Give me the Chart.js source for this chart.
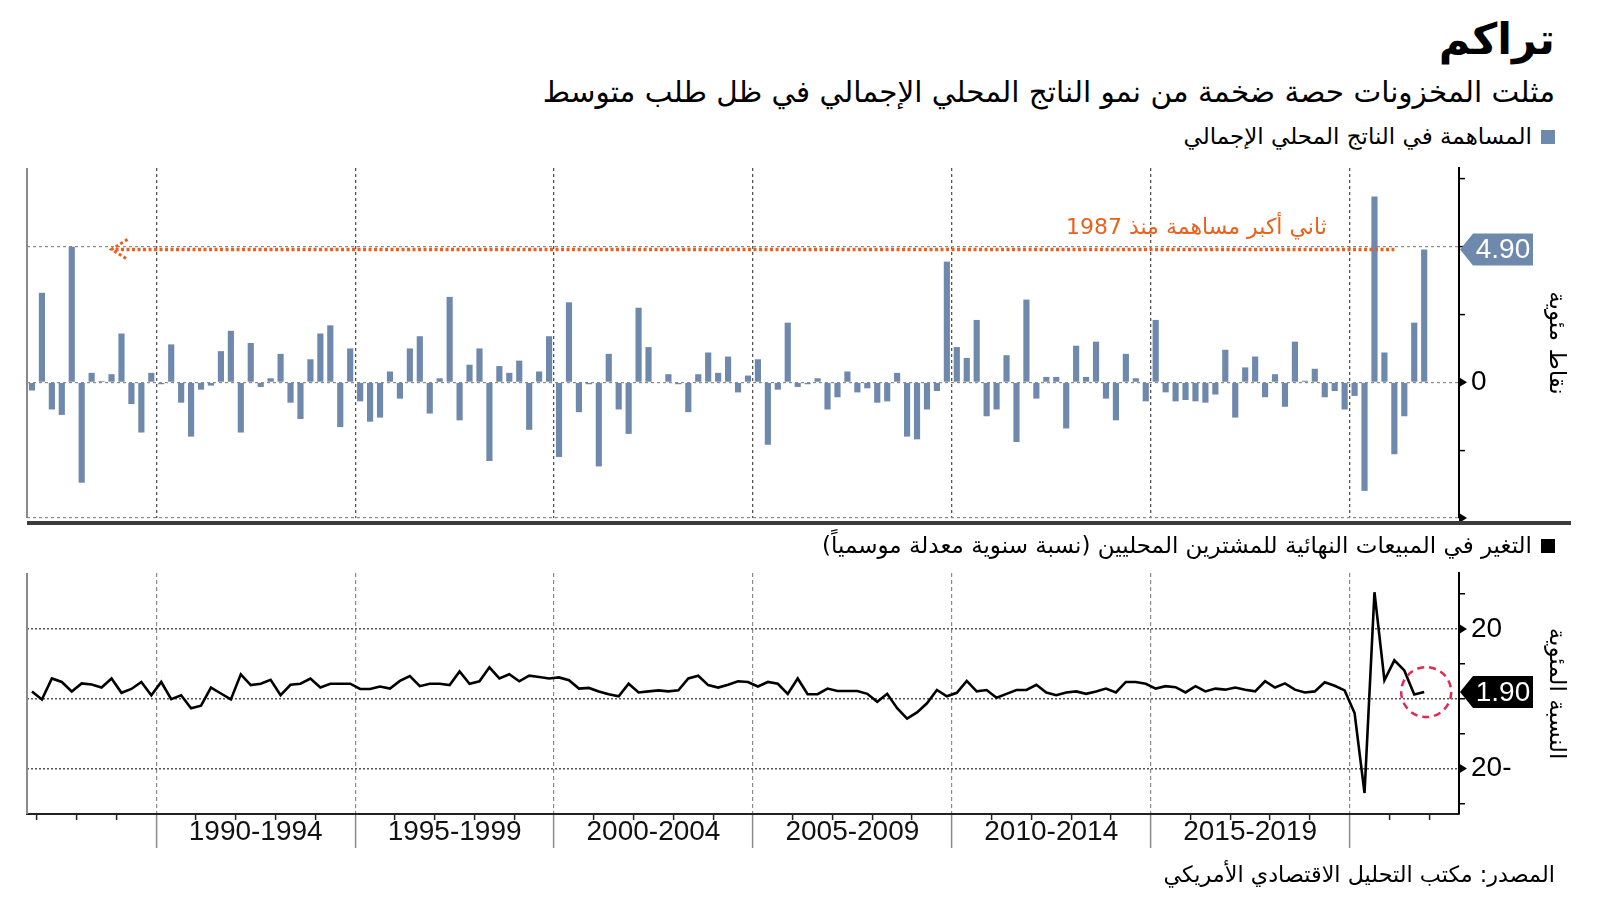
<!DOCTYPE html>
<html lang="ar">
<head>
<meta charset="UTF-8">
<title>تراكم</title>
<style>
  body {
    margin: 0;
    width: 1600px;
    height: 901px;
    background: #fff;
    position: relative;
    overflow: hidden;
    font-family: "DejaVu Sans", sans-serif;
    color: #000;
  }
  .rt {
    position: absolute;
    right: 45px;
    direction: rtl;
    white-space: nowrap;
    line-height: 1;
  }
  #title { top: 18px; font-size: 43px; font-weight: bold; }
  #subtitle { top: 78px; font-size: 29.5px; }
  .legend { display: flex; align-items: center; gap: 9px; font-size: 23px; }
  .legend .box { width: 14px; height: 14px; flex: none; }
  #legendTop { top: 125px; }
  #legendBottom { top: 534px; }
  #source { top: 863px; font-size: 22.3px; }
  .panel { position: absolute; left: 0; width: 1600px; }
  #topPanel { top: 145px; height: 396px; }
  #bottomPanel { top: 550px; height: 320px; }
  #divider {
    position: absolute;
    left: 27px;
    width: 1544px;
    top: 521px;
    height: 4px;
    background: #3c3c3c;
  }
</style>
</head>
<body>
  <div id="title" class="rt">تراكم</div>
  <div id="subtitle" class="rt">مثلت المخزونات حصة ضخمة من نمو الناتج المحلي الإجمالي في ظل طلب متوسط</div>
  <div id="legendTop" class="rt legend"><span class="box" id="boxTop"></span><span>المساهمة في الناتج المحلي الإجمالي</span></div>

  <div id="topPanel" class="panel"><canvas id="inventoryChart"></canvas></div>
  <div id="divider"></div>

  <div id="legendBottom" class="rt legend"><span class="box" id="boxBottom"></span><span>التغير في المبيعات النهائية للمشترين المحليين (نسبة سنوية معدلة موسمياً)</span></div>
  <div id="bottomPanel" class="panel"><canvas id="salesChart"></canvas></div>

  <div id="source" class="rt">المصدر: مكتب التحليل الاقتصادي الأمريكي</div>

  <script src="https://cdn.jsdelivr.net/npm/chart.js"></script>
  <script>
    // colours
    const barColor = '#6f89ad';
    const lineColor = '#000000';
    const noteColor = '#e8621e';
    const circleColor = '#e2294f';

    // quarters 1986 Q4 .. 2022 Q3 (last three slots stay empty)
    const firstYear = 1986;
    const firstQuarter = 4;
    const slotCount = 144;
    const quarterLabels = [];
    for (let k = 0; k < slotCount; k++) {
      const q = firstQuarter - 1 + k;
      quarterLabels.push((firstYear + Math.floor(q / 4)) + ' Q' + (q % 4 + 1));
    }

    const periodLabels = ['1990-1994', '1995-1999', '2000-2004', '2005-2009', '2010-2014', '2015-2019'];

    // inventories, contribution to GDP growth (percentage points)
    const inventoryContribution = [
      -0.3, 3.3, -1.0, -1.2, 5.0, -3.7, 0.35, 0.05, 0.3, 1.8, -0.8, -1.85,
      0.35, -0.07, 1.4, -0.75, -2.0, -0.27, -0.12, 1.15, 1.9, -1.85, 1.45, -0.17, 0.15, 1.05, -0.75, -1.35, 0.85, 1.8, 2.1, -1.65,
      1.25, -0.7, -1.45, -1.3, 0.4, -0.6, 1.25, 1.7, -1.15, 0.15, 3.15, -1.4, 0.65, 1.25, -2.9, 0.6, 0.35, 0.8, -1.75, 0.4,
      1.7, -2.75, 2.95, -1.1, -0.07, -3.1, 1.05, -1.0, -1.9, 2.75, 1.3, -0.02, 0.3, -0.07, -1.1, 0.3, 1.1, 0.35, 0.95, -0.37,
      0.25, 0.85, -2.3, -0.27, 2.2, -0.17, -0.07, 0.15, -1.0, -0.55, 0.4, -0.37, -0.22, -0.75, -0.7, 0.35, -2.0, -2.1, -1.0, -0.32,
      4.45, 1.3, 0.9, 2.3, -1.25, -1.0, 1.0, -2.2, 3.05, -0.6, 0.2, 0.2, -1.7, 1.35, 0.2, 1.5, -0.6, -1.4, 1.05, 0.15,
      -0.7, 2.3, -0.37, -0.7, -0.65, -0.7, -0.75, -0.45, 1.2, -1.3, 0.55, 0.95, -0.55, 0.3, -0.9, 1.5, 0.06, 0.5, -0.55, -0.32,
      -1.0, -0.5, -4.0, 6.85, 1.1, -2.65, -1.25, 2.2, 4.9
    ];

    // final sales to domestic purchasers, SAAR % change
    const finalSalesChange = [
      2.1, -0.2, 5.8, 4.8, 2.1, 4.4, 4.1, 3.2, 5.8, 1.7, 2.8, 4.8,
      1.0, 4.8, -0.1, 1.0, -2.7, -2.0, 3.2, 1.5, -0.2, 7.0, 3.9, 4.3, 5.4, 1.0, 4.0, 4.3, 5.8, 3.2, 4.3, 4.3,
      4.3, 2.8, 2.8, 3.5, 2.9, 5.1, 6.5, 3.6, 4.3, 4.3, 3.9, 7.8, 4.3, 5.0, 9.0, 5.8, 7.0, 5.0, 6.6, 6.2,
      5.8, 6.1, 5.3, 2.9, 3.1, 2.1, 1.3, 0.7, 4.3, 1.8, 2.1, 2.4, 2.1, 2.4, 5.8, 6.6, 3.9, 3.2, 4.0, 5.0,
      4.8, 3.5, 4.8, 4.3, 1.4, 5.8, 1.3, 1.3, 2.9, 2.2, 2.2, 2.2, 1.4, -0.9, 1.4, -2.7, -5.7, -3.9, -1.3, 2.5,
      0.7, 1.7, 5.1, 2.1, 2.5, 0.3, 1.4, 2.5, 2.5, 4.0, 1.8, 1.0, 1.8, 2.1, 1.4, 2.1, 2.9, 1.8, 4.8, 4.8,
      4.3, 2.9, 3.6, 3.3, 1.8, 3.6, 2.1, 2.9, 2.6, 3.2, 2.6, 2.1, 5.0, 3.2, 4.4, 2.6, 1.8, 2.1, 4.7, 3.7,
      2.4, -4.1, -27.0, 30.5, 5.3, 11.0, 8.1, 1.2, 1.9
    ];

    const barTicks = [-5, -2.5, 0, 2.5, 5, 7.5];
    const barGridValues = [-5, 0, 5];
    const barLabelValues = [0];
    const barArrowValues = [0, -5];

    const salesTicks = [-30, -20, -10, 0, 10, 20, 30];
    const salesGridValues = [-20, 0, 20];
    const salesLabelValues = [-20, 20];

    const noteText = 'ثاني أكبر مساهمة منذ 1987';
    const noteFrom = '1988 Q4';
    const noteTo = '2021 Q1';
    const noteTextEnd = '2019 Q2';

    document.getElementById('boxTop').style.background = barColor;
    document.getElementById('boxBottom').style.background = lineColor;

    function isYearStart(i) {
      const label = quarterLabels[i];
      return !!label && label.endsWith('Q1');
    }
    function isPeriodStart(i) {
      if (!isYearStart(i)) return false;
      const year = +quarterLabels[i].slice(0, 4);
      return year >= 1990 && year % 5 === 0;
    }
    // period label sits on the boundary in the middle of its five years
    const periodAt = {};
    periodLabels.forEach(p => {
      const mid = (+p.slice(0, 4) + 2) + ' Q3';
      periodAt[quarterLabels.indexOf(mid)] = p;
    });

    // RTL style negative numbers: "20-"
    function rtlNumber(v) {
      return v < 0 ? Math.abs(v) + '-' : String(v);
    }

    function drawArrowTick(ctx, x, y) {
      ctx.fillStyle = '#000';
      ctx.beginPath();
      ctx.moveTo(x, y - 5);
      ctx.lineTo(x + 8, y);
      ctx.lineTo(x, y + 5);
      ctx.closePath();
      ctx.fill();
    }

    function drawValueBox(ctx, x, y, text, fill) {
      const h = 32, slant = 13, w = 60;
      ctx.fillStyle = fill;
      ctx.beginPath();
      ctx.moveTo(x + 1, y);
      ctx.lineTo(x + 1 + slant, y - h / 2);
      ctx.lineTo(x + 1 + slant + w, y - h / 2);
      ctx.lineTo(x + 1 + slant + w, y + h / 2);
      ctx.lineTo(x + 1 + slant, y + h / 2);
      ctx.closePath();
      ctx.fill();
      ctx.fillStyle = '#fff';
      ctx.font = '28px "Liberation Sans"';
      ctx.textAlign = 'center';
      ctx.textBaseline = 'middle';
      ctx.direction = 'ltr';
      ctx.fillText(text, x + 1 + slant + w / 2, y + 1);
    }

    function drawLeftAxis(ctx, area) {
      ctx.strokeStyle = '#8a8a8a';
      ctx.lineWidth = 2;
      ctx.setLineDash([]);
      ctx.beginPath();
      ctx.moveTo(area.left, area.top);
      ctx.lineTo(area.left, area.bottom);
      ctx.stroke();
    }

    const inventoryDecor = {
      id: 'inventoryDecor',
      afterDraw(chart) {
        const { ctx, chartArea: area, scales: { x, y } } = chart;
        ctx.save();
        drawLeftAxis(ctx, area);
        barArrowValues.forEach(v => drawArrowTick(ctx, area.right, y.getPixelForValue(v)));

        // orange dotted reference line at the latest value
        const last = inventoryContribution[inventoryContribution.length - 1];
        const yv = y.getPixelForValue(last);
        const x0 = x.getPixelForValue(quarterLabels.indexOf(noteFrom));
        const x1 = x.getPixelForValue(quarterLabels.indexOf(noteTo));
        ctx.strokeStyle = noteColor;
        ctx.lineWidth = 3.5;
        ctx.setLineDash([3, 2.5]);
        ctx.beginPath();
        ctx.moveTo(x0 + 4, yv);
        ctx.lineTo(x1, yv);
        ctx.stroke();
        ctx.lineWidth = 3;
        ctx.beginPath();
        ctx.moveTo(x0 + 16, yv - 10);
        ctx.lineTo(x0, yv);
        ctx.lineTo(x0 + 16, yv + 10);
        ctx.stroke();
        ctx.setLineDash([]);

        ctx.fillStyle = noteColor;
        ctx.font = '22px "DejaVu Sans"';
        ctx.direction = 'rtl';
        ctx.textAlign = 'right';
        ctx.textBaseline = 'middle';
        ctx.fillText(noteText, x.getPixelForValue(quarterLabels.indexOf(noteTextEnd)) + 2, yv - 21);

        drawValueBox(ctx, area.right, yv, last.toFixed(2), barColor);
        ctx.restore();
      }
    };

    const salesDecor = {
      id: 'salesDecor',
      afterDraw(chart) {
        const { ctx, chartArea: area, scales: { x, y } } = chart;
        ctx.save();
        drawLeftAxis(ctx, area);
        salesLabelValues.forEach(v => drawArrowTick(ctx, area.right, y.getPixelForValue(v)));

        const lastIndex = finalSalesChange.length - 1;
        const last = finalSalesChange[lastIndex];
        const px = x.getPixelForValue(lastIndex);
        const py = y.getPixelForValue(last);
        ctx.strokeStyle = circleColor;
        ctx.lineWidth = 2.5;
        ctx.setLineDash([7, 5]);
        ctx.beginPath();
        ctx.arc(px + 2, py, 25, 0, Math.PI * 2);
        ctx.stroke();
        ctx.setLineDash([]);

        drawValueBox(ctx, area.right, py, last.toFixed(2), '#000');
        ctx.restore();
      }
    };

    const axisTitleFont = { family: 'DejaVu Sans', size: 23 };
    const tickFont = { family: 'Liberation Sans', size: 28 };
    const clear = 'rgba(0,0,0,0)';

    new Chart(document.getElementById('inventoryChart'), {
      type: 'bar',
      data: {
        labels: quarterLabels,
        datasets: [{
          label: 'المساهمة في الناتج المحلي الإجمالي',
          data: inventoryContribution,
          backgroundColor: barColor,
          borderWidth: 0,
          barPercentage: 0.62,
          categoryPercentage: 1
        }]
      },
      options: {
        responsive: true,
        maintainAspectRatio: false,
        animation: false,
        layout: { padding: { left: 27, right: 0, top: 23, bottom: 23 } },
        plugins: { legend: { display: false }, tooltip: { enabled: false } },
        scales: {
          x: {
            offset: true,
            grid: {
              offset: true,
              drawTicks: false,
              lineWidth: 1.3,
              color: c => isPeriodStart(c.index) ? '#555' : clear
            },
            border: { display: false, dash: [3, 3] },
            ticks: { display: false },
            afterFit: s => { s.height = 0; }
          },
          y: {
            position: 'right',
            min: -5,
            max: 7.9,
            afterBuildTicks: s => { s.ticks = barTicks.map(v => ({ value: v })); },
            ticks: {
              padding: 6,
              color: '#000',
              font: tickFont,
              callback: v => barLabelValues.includes(v) ? rtlNumber(v) : ''
            },
            grid: {
              lineWidth: 1.2,
              color: c => (c.tick && barGridValues.includes(c.tick.value)) ? '#8c8c8c' : clear,
              tickColor: '#000',
              tickLength: 6,
              tickWidth: 1.5
            },
            border: { display: true, color: '#000', width: 2, dash: [3, 3] },
            title: { display: true, text: 'نقاط مئوية', color: '#000', font: axisTitleFont, padding: { top: 30 } },
            afterFit: s => { s.width = 141; }
          }
        }
      },
      plugins: [inventoryDecor]
    });

    new Chart(document.getElementById('salesChart'), {
      type: 'line',
      data: {
        labels: quarterLabels,
        datasets: [{
          label: 'التغير في المبيعات النهائية للمشترين المحليين',
          data: finalSalesChange,
          borderColor: lineColor,
          borderWidth: 2.6,
          pointRadius: 0,
          tension: 0,
          fill: false
        }]
      },
      options: {
        responsive: true,
        maintainAspectRatio: false,
        animation: false,
        layout: { padding: { left: 27, right: 0, top: 23, bottom: 0 } },
        plugins: { legend: { display: false }, tooltip: { enabled: false } },
        scales: {
          x: {
            offset: true,
            grid: {
              offset: true,
              drawTicks: true,
              tickLength: 34,
              tickWidth: 1.5,
              lineWidth: 1.2,
              color: c => isPeriodStart(c.index) ? '#8a8a8a' : clear,
              tickColor: c => isPeriodStart(c.index) ? '#8a8a8a' : (isYearStart(c.index) ? '#222' : clear),
              tickBorderDash: c => isPeriodStart(c.index) ? [] : [5, 100]
            },
            border: { display: true, color: '#222', width: 2, dash: [4, 3] },
            ticks: {
              autoSkip: false,
              maxRotation: 0,
              minRotation: 0,
              padding: -33,
              labelOffset: -5,
              color: '#111',
              font: tickFont,
              callback: (v, i) => periodAt[i] || ''
            },
            afterFit: s => { s.height = 56; }
          },
          y: {
            position: 'right',
            min: -33,
            max: 36,
            afterBuildTicks: s => { s.ticks = salesTicks.map(v => ({ value: v })); },
            ticks: {
              padding: 6,
              color: '#000',
              font: tickFont,
              callback: v => salesLabelValues.includes(v) ? rtlNumber(v) : ''
            },
            grid: {
              lineWidth: 1.5,
              color: c => (c.tick && salesGridValues.includes(c.tick.value)) ? '#555' : clear,
              tickColor: '#000',
              tickLength: 6,
              tickWidth: 1.5
            },
            border: { display: true, color: '#000', width: 2, dash: [2, 2] },
            title: { display: true, text: 'النسبة المئوية', color: '#000', font: axisTitleFont, padding: { top: 30 } },
            afterFit: s => { s.width = 141; }
          }
        }
      },
      plugins: [salesDecor]
    });
  </script>
</body>
</html>
